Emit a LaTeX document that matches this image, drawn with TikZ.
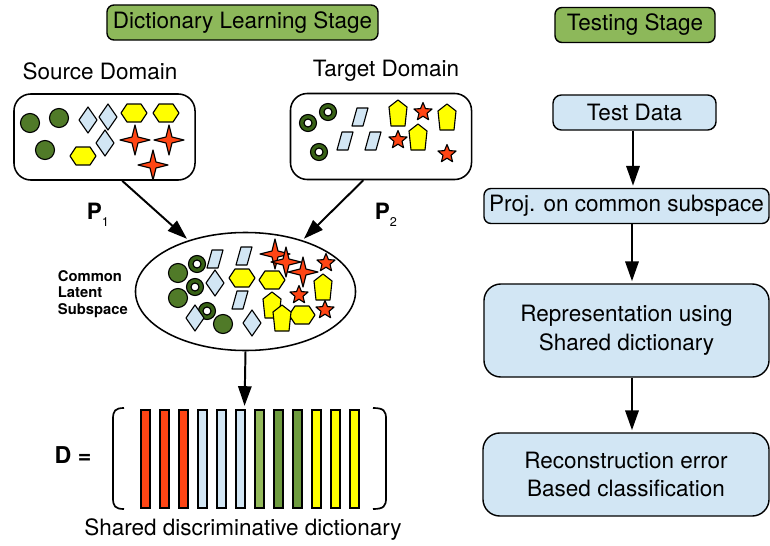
\documentclass[tikz,border=0pt]{standalone}
\usepackage{fontspec}
\setmainfont{TeX Gyre Heros}
\usetikzlibrary{arrows.meta}
\usetikzlibrary{positioning}
\usetikzlibrary{shapes.geometric}
\definecolor{stagegreen}{RGB}{141,184,90}
\definecolor{boxblue}{RGB}{210,230,244}
\definecolor{dkgreen}{RGB}{80,122,40}
\definecolor{ringgreen}{RGB}{56,98,22}
\definecolor{mred}{RGB}{255,69,20}
\definecolor{myellow}{RGB}{255,255,0}
\definecolor{ltgreen}{RGB}{148,186,90}
\definecolor{midgreen}{RGB}{110,155,62}

\tikzset{
  stagebox/.style={draw, line width=1pt, rounded corners=5pt, fill=stagegreen, minimum height=0.875cm, inner sep=0pt},
  stepbox/.style={draw, line width=1pt, rounded corners=6pt, fill=boxblue, align=center, inner sep=0pt},
  domainbox/.style={draw, line width=1.1pt, rounded corners=12pt, minimum width=4.525cm, minimum height=2.15cm},
  shp/.style={draw=black, line width=0.8pt, line join=round},
  arr/.style={line width=1.4pt, -{Triangle[length=14pt, width=9.5pt]}, shorten >=1.5pt},
  bar/.style={draw=black, line width=1.3pt},
  gdot/.pic={\filldraw[shp, fill=dkgreen] (0,0) circle [radius=9.5];},
  ring/.pic={\filldraw[shp, fill=ringgreen, even odd rule] (0,0) circle [radius=8.5] (0,0) circle [radius=4];},
  diam/.pic={\filldraw[shp, fill=boxblue] (0,-13) -- (9,0) -- (0,13) -- (-9,0) -- cycle;},
  hexa/.pic={\filldraw[shp, fill=myellow] (-13,0) -- (-7,-9) -- (7,-9) -- (13,0) -- (7,9) -- (-7,9) -- cycle;},
  para/.pic={\filldraw[shp, fill=boxblue] (-8,9) -- (3,9) -- (8,-9) -- (-3,-9) -- cycle;},
  penta/.pic={\filldraw[shp, fill=myellow] (0,-13) -- (9,-6) -- (7,13) -- (-7,13) -- (-9,-6) -- cycle;},
  fourstar/.pic={\filldraw[shp, fill=mred] (0,-15) -- (3,-3) -- (15,0) -- (3,3) -- (0,15) -- (-3,3) -- (-15,0) -- (-3,-3) -- cycle;},
  fivestar/.pic={\filldraw[shp, fill=mred] (-90:9.5) -- (-54:4.2) -- (-18:9.5) -- (18:4.2) -- (54:9.5) -- (90:4.2) -- (126:9.5) -- (162:4.2) -- (198:9.5) -- (234:4.2) -- cycle;}
}

\begin{document}
\begin{tikzpicture}[x=0.025cm, y=-0.025cm, font=\fontsize{16}{20.5}\selectfont]
  \useasboundingbox (0,0) rectangle (770,546);

  % stage titles
  \node (learn) [stagebox, minimum width=6.775cm] at (242.5,22.5) {Dictionary Learning Stage};
  \node (test) [stagebox, minimum width=4cm] at (635,25) {Testing Stage};

  % domains
  \node (srclabel) at (100,71) {Source Domain};
  \node (tgtlabel) at (386,71) {Target Domain};
  \node (src) [domainbox] at (104.5,137) {};
  \node (tgt) [domainbox] at (381,136.5) {};

  \foreach \x/\y in {30/123, 59/118, 45/150} \pic at (\x,\y) {gdot};
  \foreach \x/\y in {88/120, 108/117, 105/143} \pic at (\x,\y) {diam};
  \foreach \x/\y in {134/113, 166/113, 83/156} \pic at (\x,\y) {hexa};
  \foreach \x/\y in {135/140, 169/140, 153/165} \pic at (\x,\y) {fourstar};

  \foreach \x/\y in {308/123, 328/112, 319/152} \pic at (\x,\y) {ring};
  \foreach \x/\y in {360/117, 345/141, 373/141} \pic at (\x,\y) {para};
  \foreach \x/\y in {398/113, 447/117, 418/137} \pic at (\x,\y) {penta};
  \foreach \x/\y in {423/112, 398/140, 447/154} \pic at (\x,\y) {fivestar};

  % common latent subspace
  \node (latent) [draw, line width=1.1pt, ellipse, minimum width=5.5cm, minimum height=2.95cm] at (245.5,291.5) {};
  \node (latentlabel) [anchor=west, align=left, font=\fontsize{10.5}{11.8}\selectfont\bfseries] at (53,294) {Common\\Latent\\Subspace};

  \foreach \x/\y in {178/273, 178/298, 223/324} \pic at (\x,\y) {gdot};
  \foreach \x/\y in {197/264, 195/287, 207/311} \pic at (\x,\y) {ring};
  \foreach \x/\y in {215/283, 195/318, 252/323} \pic at (\x,\y) {diam};
  \foreach \x/\y in {215/259, 244/256, 240/300} \pic at (\x,\y) {para};
  \foreach \x/\y in {242/278, 272/280, 302/315} \pic at (\x,\y) {hexa};
  \foreach \x/\y in {272/305, 282/318, 323/287} \pic at (\x,\y) {penta};
  \foreach \x/\y in {275/254, 286/262, 303/272} \pic at (\x,\y) {fourstar};
  \foreach \x/\y in {326/263, 299/295, 325/310} \pic at (\x,\y) {fivestar};

  \draw [arr] (src.-68) -- (latent.138);
  \draw [arr] (tgt.-112) -- (latent.42);
  \node (p1) at (98,215) {\textbf{P}\raisebox{-0.6ex}{\fontsize{9}{9}\selectfont 1}};
  \node (p2) at (386,215) {\textbf{P}\raisebox{-0.6ex}{\fontsize{9}{9}\selectfont 2}};

  % shared dictionary
  \coordinate (dtop) at (244.5,408);
  \draw [arr] (latent.south) -- (dtop);
  \node (dlabel) [font=\fontsize{16.5}{20}\selectfont\bfseries] at (73,455) {D =};
  \foreach \i/\c in {0/mred, 1/mred, 2/mred, 3/boxblue, 4/boxblue, 5/boxblue,
                     6/ltgreen, 7/midgreen, 8/midgreen, 9/myellow, 10/myellow, 11/myellow}
    \filldraw [bar, fill=\c] (141+19*\i,410) rectangle +(9,98);
  \draw [line width=1.2pt] (124,408) .. controls (115,408) and (113,411) .. (113,419) -- (113,498)
    .. controls (113,506) and (115,509) .. (124,509);
  \draw [line width=1.2pt] (373,408) .. controls (384,408) and (386,411) .. (386,419) -- (386,498)
    .. controls (386,506) and (384,509) .. (373,509);
  \node (dictlabel) at (243,530) {Shared discriminative dictionary};

  % testing stage
  \node (data) [stepbox, minimum width=4.075cm, minimum height=0.875cm] at (634.5,112.5) {Test Data};
  \node (proj) [stepbox, rounded corners=5pt, minimum width=7.125cm, minimum height=0.875cm] at (626.5,206) {Proj. on common subspace};
  \node (rep) [stepbox, rounded corners=12pt, minimum width=7.125cm, minimum height=2.325cm] at (626.5,330.5) {Representation using\\Shared dictionary};
  \node (rec) [stepbox, rounded corners=12pt, minimum width=7.15cm, minimum height=2.075cm] at (626,474.5) {Reconstruction error\\Based classification};

  \draw [arr] (data.south -| 633,0) -- (proj.north -| 633,0);
  \draw [arr] (proj.south -| 632,0) -- (rep.north -| 632,0);
  \draw [arr] (rep.south -| 632,0) -- (rec.north -| 632,0);
\end{tikzpicture}
\end{document}
